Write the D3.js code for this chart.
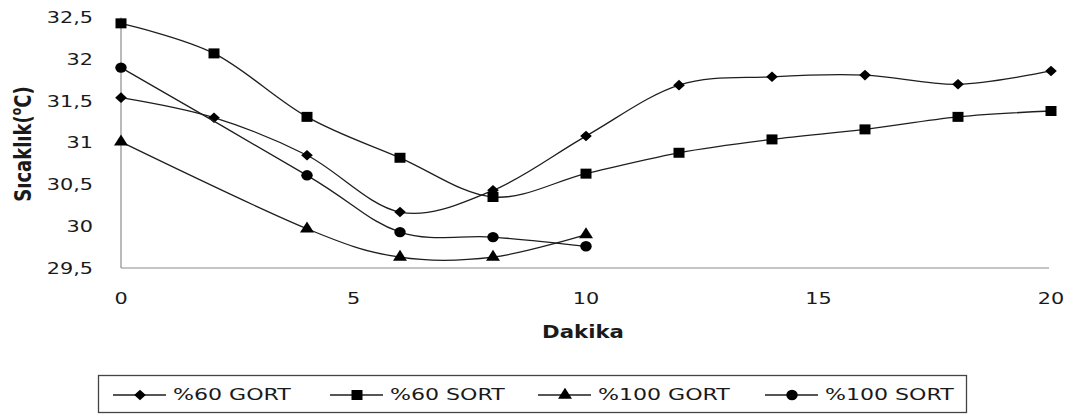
<!DOCTYPE html>
<html>
<head>
<meta charset="utf-8">
<script src="https://cdn.jsdelivr.net/npm/d3@7"></script>
<style>
  html, body { margin: 0; padding: 0; background: #fff; }
  svg { display: block; }
  text { font-family: "DejaVu Sans", Verdana, sans-serif; fill: #1a1a1a; }
</style>
</head>
<body>
<svg id="chart" width="1065" height="416"></svg>
<script>
// Sampling minutes for each series
const minutesLong = [0, 2, 4, 6, 8, 10, 12, 14, 16, 18, 20];
const minutesShort = [0, 4, 6, 8, 10];

// Temperature readings (°C)
const gort60 = [31.54, 31.30, 30.85, 30.17, 30.43, 31.08, 31.69, 31.79, 31.81, 31.70, 31.86];
const sort60 = [32.43, 32.07, 31.31, 30.82, 30.35, 30.63, 30.88, 31.04, 31.16, 31.31, 31.38];
const gort100 = [31.01, 29.97, 29.63, 29.63, 29.90];
const sort100 = [31.90, 30.61, 29.93, 29.87, 29.76];

const seriesNames = ["%60 GORT", "%60 SORT", "%100 GORT", "%100 SORT"];
const xTicks = [0, 5, 10, 15, 20];
const yTicks = [29.5, 30, 30.5, 31, 31.5, 32, 32.5];

const xTitle = "Dakika";

// Horizontal text stretch used throughout the figure
const SX = 1.3;

const svg = d3.select("#chart");

const x = d3.scaleLinear().domain([0, 20]).range([121, 1051]);
const y = d3.scaleLinear().domain([29.5, 32.5]).range([268, 17.5]);

const fmt = d3.formatLocale({ decimal: ",", thousands: ".", grouping: [3], currency: ["", ""] }).format(".3~g");

// Axis lines
const axisColor = "#8c8c8c";
svg.append("line")
  .attr("x1", x(0)).attr("x2", x(0))
  .attr("y1", y(32.5)).attr("y2", y(29.5))
  .attr("stroke", axisColor).attr("stroke-width", 1.2);
svg.append("line")
  .attr("x1", x(0)).attr("x2", x(20) - 2)
  .attr("y1", y(29.5)).attr("y2", y(29.5))
  .attr("stroke", axisColor).attr("stroke-width", 1.2);

// Y tick labels
svg.append("g").selectAll("text").data(yTicks).join("text")
  .attr("transform", d => `translate(93,${y(d)}) scale(${SX},1)`)
  .attr("text-anchor", "end")
  .attr("dominant-baseline", "central")
  .style("font-size", "16px")
  .text(d => fmt(d));

// X tick labels
svg.append("g").selectAll("text").data(xTicks).join("text")
  .attr("transform", d => `translate(${x(d)},298) scale(${SX},1)`)
  .attr("text-anchor", "middle")
  .attr("dominant-baseline", "central")
  .style("font-size", "16px")
  .text(d => d);

// Axis titles
svg.append("text")
  .attr("transform", `translate(583,332) scale(1.25,1)`)
  .attr("text-anchor", "middle")
  .attr("dominant-baseline", "central")
  .style("font-size", "17px").style("font-weight", "bold")
  .text(xTitle);

const yt = svg.append("text")
  .attr("transform", `translate(23,144) scale(1.3,1) rotate(-90)`)
  .attr("text-anchor", "middle")
  .attr("dominant-baseline", "central")
  .style("font-size", "18px").style("font-weight", "bold");
yt.append("tspan").text("Sıcaklık(");
yt.append("tspan").attr("dy", -6).style("font-size", "11px").text("o");
yt.append("tspan").attr("dy", 6).text("C)");

// Marker shapes
const diamond = {
  draw(ctx, size) {
    const r = Math.sqrt(size / 2);
    ctx.moveTo(0, -r); ctx.lineTo(r, 0); ctx.lineTo(0, r); ctx.lineTo(-r, 0); ctx.closePath();
  }
};
const symbols = [
  d3.symbol().type(diamond).size(56),
  d3.symbol().type(d3.symbolSquare).size(100),
  d3.symbol().type(d3.symbolTriangle).size(70),
  d3.symbol().type(d3.symbolCircle).size(85)
];

const series = [
  { name: seriesNames[0], xs: minutesLong, ys: gort60 },
  { name: seriesNames[1], xs: minutesLong, ys: sort60 },
  { name: seriesNames[2], xs: minutesShort, ys: gort100 },
  { name: seriesNames[3], xs: minutesShort, ys: sort100 }
];

const line = d3.line()
  .x(d => x(d[0])).y(d => y(d[1]))
  .curve(d3.curveCatmullRom.alpha(0));

const lineColor = "#1e1e1e";

series.forEach((s, i) => {
  const pts = s.xs.map((m, j) => [m, s.ys[j]]);
  const g = svg.append("g");
  g.append("path")
    .attr("d", line(pts))
    .attr("fill", "none")
    .attr("stroke", lineColor)
    .attr("stroke-width", 1.3);
  g.selectAll("path.m").data(pts).join("path")
    .attr("class", "m")
    .attr("transform", d => `translate(${x(d[0])},${y(d[1])}) scale(1.1,1)`)
    .attr("d", symbols[i]())
    .attr("fill", "#000");
});

// Legend
const legend = svg.append("g");
legend.append("rect")
  .attr("x", 98.5).attr("y", 375.5)
  .attr("width", 868).attr("height", 37)
  .attr("fill", "#fff").attr("stroke", "#444").attr("stroke-width", 1.3);

const legendX = [113, 330, 538, 765];
const ly = 395;
seriesNames.forEach((name, i) => {
  const lx = legendX[i];
  legend.append("line")
    .attr("x1", lx).attr("x2", lx + 53)
    .attr("y1", ly).attr("y2", ly)
    .attr("stroke", lineColor).attr("stroke-width", 1.5);
  legend.append("path")
    .attr("transform", `translate(${lx + 27},${ly}) scale(1.1,1)`)
    .attr("d", symbols[i]())
    .attr("fill", "#000");
  legend.append("text")
    .attr("transform", `translate(${lx + 60},${ly}) scale(1.38,1)`)
    .attr("dominant-baseline", "central")
    .style("font-size", "16px")
    .text(name);
});
</script>
</body>
</html>
